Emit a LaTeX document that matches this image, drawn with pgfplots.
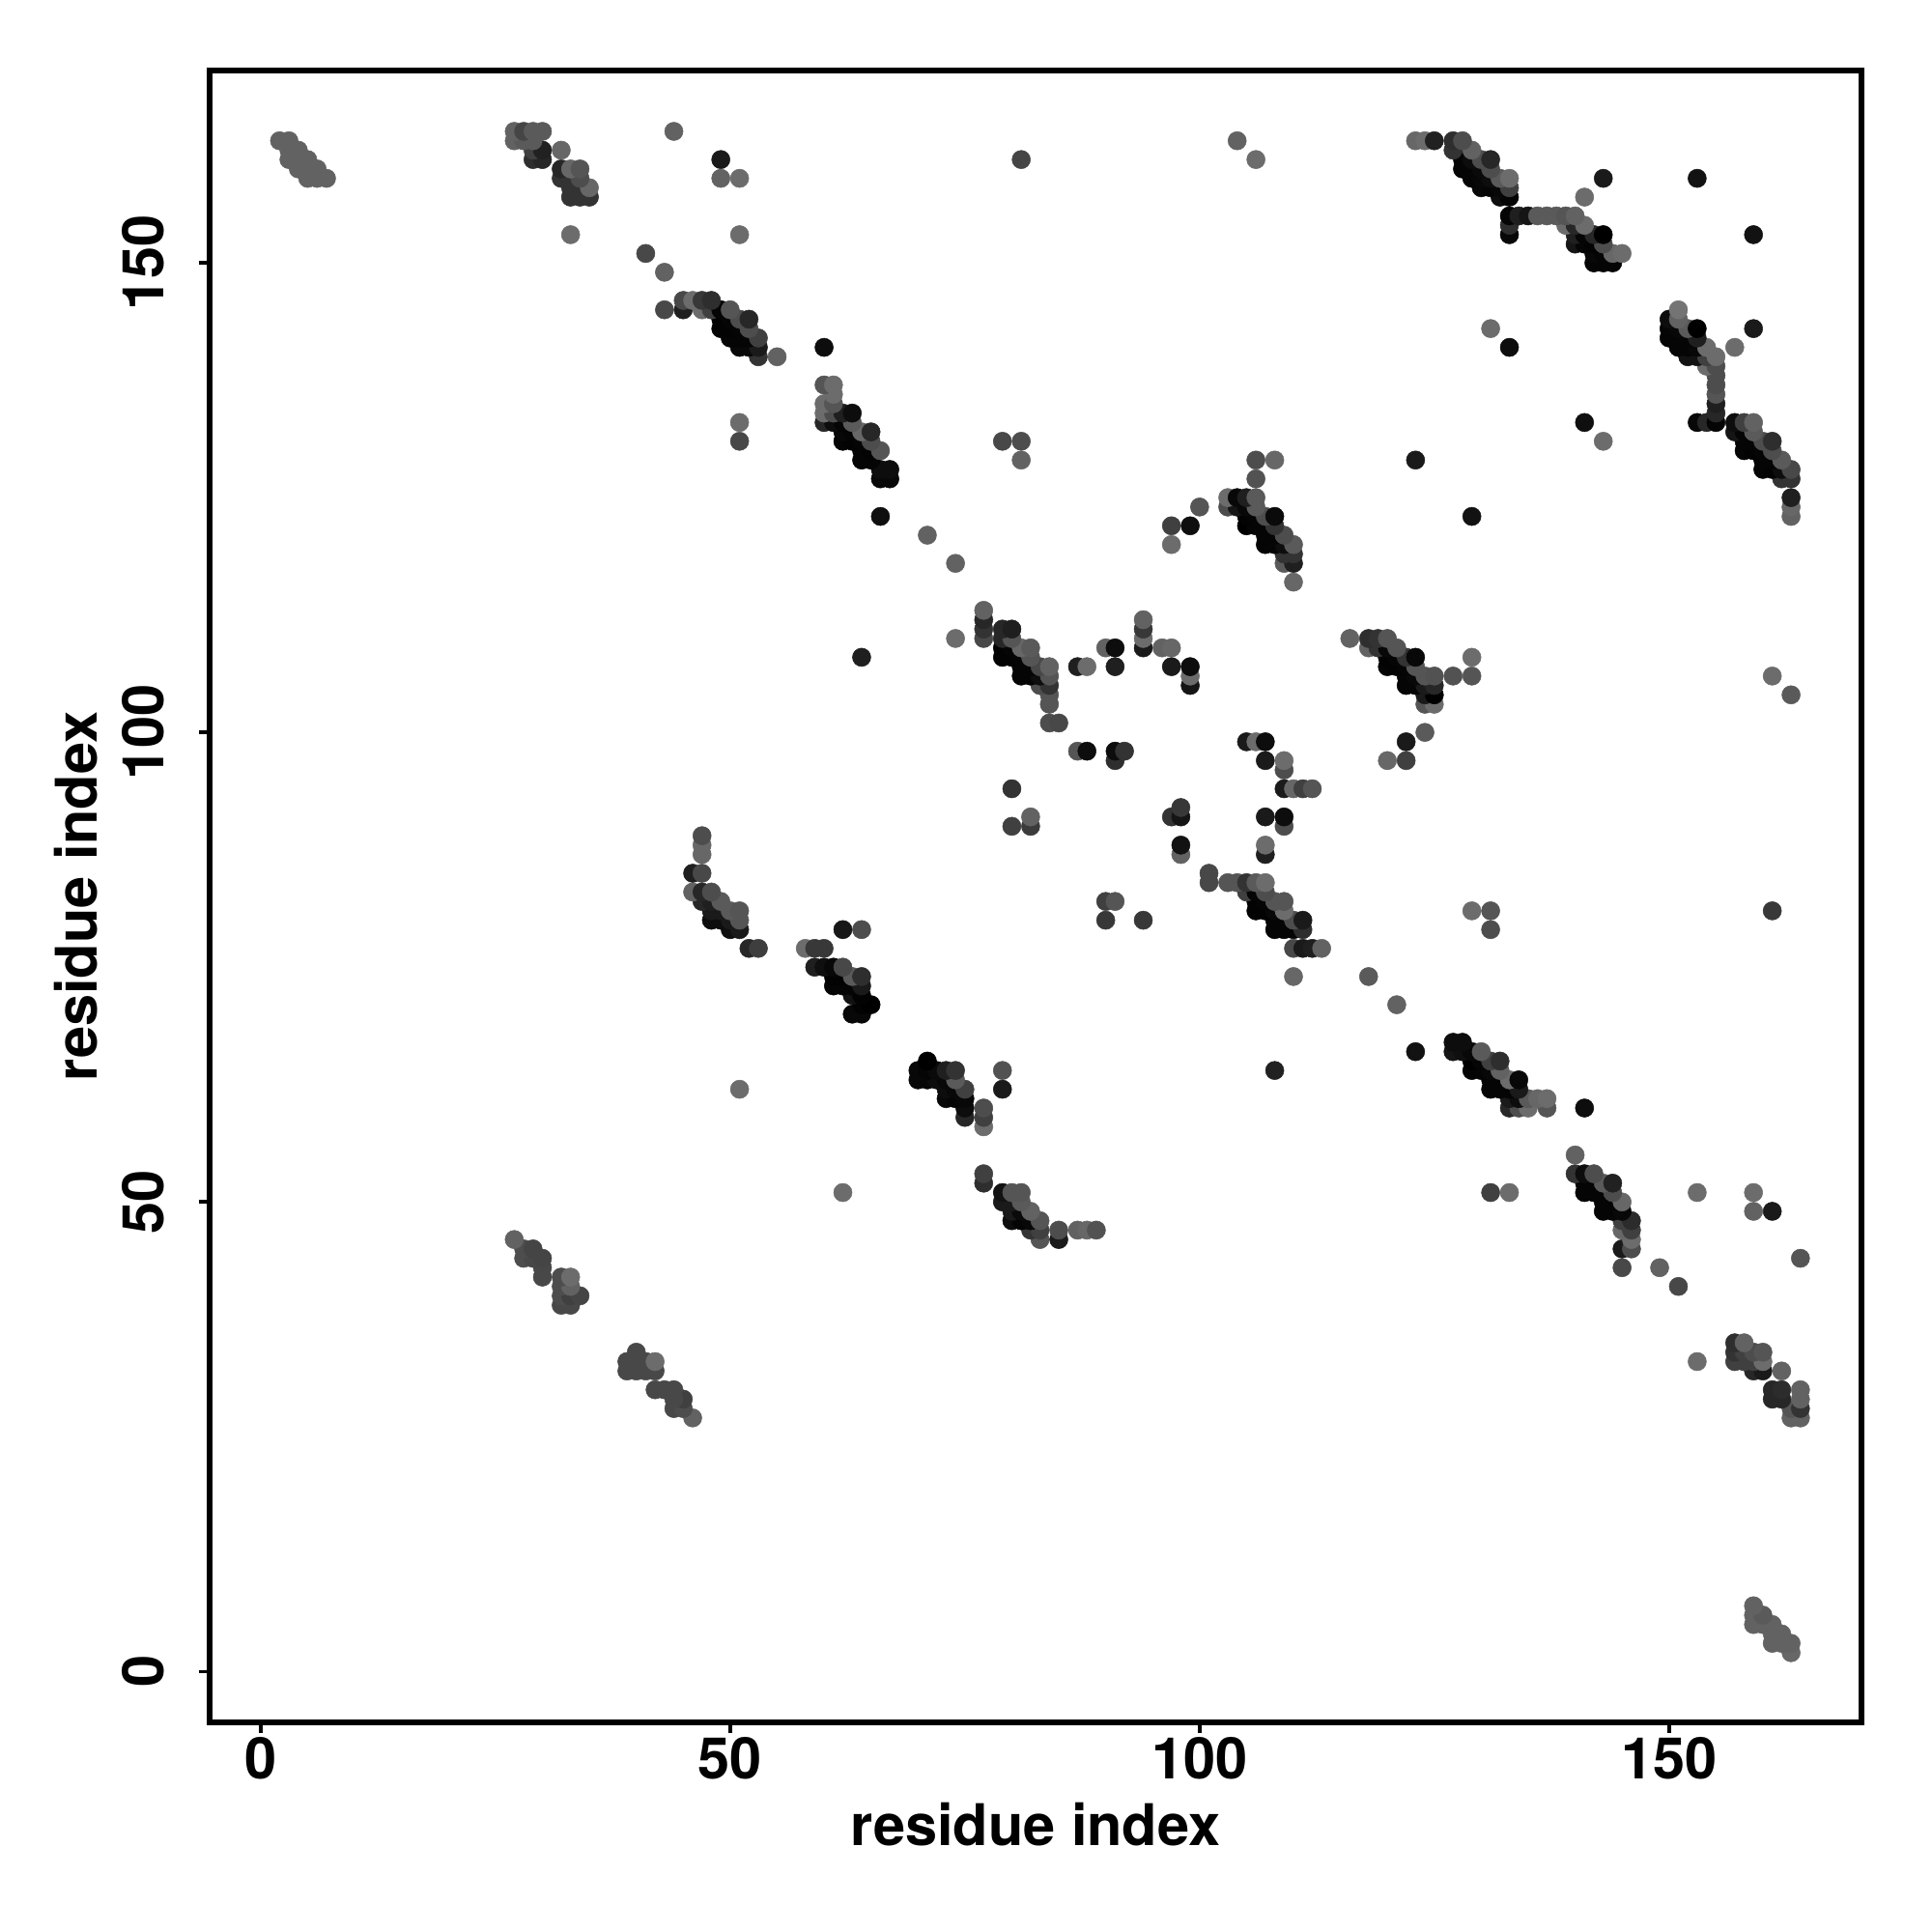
\documentclass[border=0pt]{standalone}
\usepackage{pgfplots}
\usepackage{fontspec}
\setmainfont{TeX Gyre Heros}
\pgfplotsset{compat=1.18}
\newcommand{\lblfont}{\fontsize{11.9}{14}\selectfont\bfseries}
\begin{document}
\begin{tikzpicture}[x=1pt,y=1pt]
\useasboundingbox (-43.4,-43.4) rectangle (356.6,356.6);
\begin{axis}[
  at={(0,0)},anchor=south west,
  scale only axis,width=342pt,height=342pt,
  xmin=-5.45,xmax=170.5,ymin=-5.42,ymax=170.48,
  axis line style={line width=1.15pt},
  xtick={0,50,100,150},ytick={0,50,100,150},
  tick align=outside,tick pos=left,
  major tick length=2.2pt,
  every tick/.style={black,line width=0.7pt},
  /pgf/number format/assume math mode=true,
  tick label style={font=\lblfont},
  xticklabel style={anchor=north,inner sep=0pt,yshift=-0.6pt},
  yticklabel style={rotate=90,anchor=south,inner sep=0pt,yshift=6.9pt},
  xlabel={residue index},ylabel={residue index},
  every axis x label/.style={at={(axis description cs:0.5,0)},anchor=center,yshift=-21.1pt,font=\lblfont},
  every axis y label/.style={at={(axis description cs:0,0.5)},anchor=center,rotate=90,yshift=27.6pt,font=\lblfont},
  colormap={gr}{gray(0cm)=(0); gray(1cm)=(1)},
  point meta min=0,point meta max=1,
  clip=false,
]
\addplot[only marks,scatter,scatter src=explicit,mark=*,mark size=1.9pt,
  scatter/use mapped color={draw=mapped color,fill=mapped color},
  mark options={line width=0.1pt}]
table[x=x,y=y,meta=g]{
x y g
163 2 .4
161 3 .38
162 3 .38
163 3 .38
161 4 .38
162 4 .38
159 5 .38
160 5 .38
161 5 .38
159 6 .38
160 6 .35
159 7 .38
163 27 .38
164 27 .38
46 27 .38
44 28 .28
45 28 .3
163 28 .33
164 28 .2
45 29 .25
44 29 .28
161 29 .15
162 29 .15
164 29 .38
42 30 .28
43 30 .28
44 30 .28
161 30 .15
162 30 .17
164 30 .38
39 32 .28
40 32 .28
41 32 .28
42 32 .28
159 32 .15
160 32 .1
162 32 .38
39 33 .28
40 33 .28
41 33 .28
42 33 .42
153 33 .42
157 33 .25
158 33 .25
159 33 .25
160 33 .42
40 34 .28
157 34 .2
158 34 .25
159 34 .3
160 34 .33
157 35 .18
158 35 .38
32 39 .28
33 39 .28
32 40 .3
33 40 .25
34 40 .27
32 41 .3
33 41 .38
151 41 .28
32 42 .3
33 42 .42
30 42 .28
149 43 .38
145 43 .28
30 43 .28
28 44 .3
29 44 .28
30 44 .27
164 44 .33
28 45 .3
29 45 .27
145 45 .1
146 45 .3
27 46 .38
83 46 .33
85 46 .1
146 46 .42
82 47 .2
83 47 .25
85 47 .3
87 47 .38
88 47 .4
89 47 .32
145 47 .4
146 47 .25
80 48 .05
81 48 .02
82 48 .03
83 48 .33
145 48 .25
146 48 .17
80 49 .1
81 49 .04
82 49 .38
143 49 .02
144 49 .02
145 49 .03
159 49 .38
161 49 .1
79 50 .1
80 50 .1
81 50 .35
143 50 .02
144 50 .02
145 50 .4
79 51 .07
80 51 .33
81 51 .33
62 51 .42
131 51 .25
133 51 .42
141 51 .02
142 51 .02
143 51 .02
144 51 .3
153 51 .42
159 51 .42
77 52 .18
141 52 .02
142 52 .02
143 52 .35
144 52 .13
77 53 .25
140 53 .2
141 53 .05
142 53 .3
140 55 .38
77 58 .42
77 59 .25
75 59 .15
75 60 .05
77 60 .3
133 60 .15
134 60 .3
135 60 .42
137 60 .33
141 60 .05
73 61 .03
74 61 .02
75 61 .03
133 61 .1
134 61 .05
135 61 .35
136 61 .4
137 61 .42
51 62 .42
73 62 .05
74 62 .03
75 62 .25
79 62 .1
131 62 .02
132 62 .02
133 62 .02
134 62 .1
70 63 .03
71 63 .03
72 63 .05
73 63 .03
74 63 .35
131 63 .02
132 63 .02
133 63 .42
134 63 .03
70 64 .03
71 64 .02
72 64 .04
73 64 .12
74 64 .2
79 64 .32
108 64 .13
129 64 .02
130 64 .02
131 64 .03
132 64 .38
71 65 .0
129 65 .0
130 65 .02
131 65 .25
132 65 .18
123 66 .07
127 66 .08
128 66 .06
129 66 .03
130 66 .35
127 67 .05
128 67 .05
63 70 .03
64 70 .03
64 71 .01
65 71 .0
121 71 .38
63 72 .07
64 72 .01
61 73 .02
62 73 .02
63 73 .02
64 73 .1
61 74 .01
62 74 .01
63 74 .35
64 74 .18
110 74 .4
118 74 .35
59 75 .12
60 75 .06
61 75 .03
62 75 .28
52 77 .15
53 77 .24
58 77 .42
59 77 .22
60 77 .22
110 77 .28
111 77 .1
112 77 .12
113 77 .38
50 79 .06
51 79 .1
62 79 .09
64 79 .3
108 79 .02
109 79 .02
110 79 .02
111 79 .18
131 79 .3
48 80 .05
49 80 .05
50 80 .1
51 80 .33
90 80 .22
94 80 .22
108 80 .02
109 80 .02
110 80 .3
111 80 .1
48 81 .1
49 81 .1
50 81 .35
51 81 .33
106 81 .01
107 81 .01
108 81 .03
109 81 .42
129 81 .42
131 81 .33
161 81 .22
47 82 .15
48 82 .12
49 82 .35
90 82 .25
91 82 .33
106 82 .01
107 82 .02
108 82 .33
109 82 .33
46 83 .38
47 83 .15
48 83 .3
105 83 .25
106 83 .02
107 83 .3
101 84 .28
103 84 .33
104 84 .33
105 84 .2
106 84 .35
107 84 .42
46 85 .12
47 85 .28
101 85 .28
47 87 .4
98 87 .38
107 87 .12
47 88 .4
98 88 .07
107 88 .42
47 89 .3
80 90 .25
82 90 .23
109 90 .3
82 91 .38
97 91 .2
98 91 .08
107 91 .1
109 91 .05
98 92 .22
80 94 .2
109 94 .1
110 94 .4
111 94 .25
112 94 .33
109 96 .3
91 97 .18
107 97 .1
109 97 .42
120 97 .4
122 97 .25
87 98 .33
88 98 .05
91 98 .05
92 98 .2
105 99 .1
106 99 .42
107 99 .05
122 99 .1
124 100 .35
84 101 .3
85 101 .28
84 103 .33
124 103 .33
125 103 .42
84 104 .33
124 104 .1
125 104 .0
163 104 .35
83 105 .3
84 105 .2
99 105 .08
122 105 .02
123 105 .02
124 105 .1
125 105 .15
81 106 .02
82 106 .02
83 106 .05
84 106 .33
99 106 .42
122 106 .02
123 106 .03
124 106 .33
125 106 .32
127 106 .32
129 106 .33
161 106 .42
81 107 .02
82 107 .02
83 107 .28
84 107 .38
87 107 .12
88 107 .42
91 107 .12
97 107 .1
99 107 .05
120 107 .02
121 107 .01
122 107 .02
123 107 .33
64 108 .12
79 108 .01
80 108 .01
81 108 .02
82 108 .33
120 108 .01
121 108 .02
122 108 .2
123 108 .03
129 108 .42
79 109 .01
80 109 .02
81 109 .4
82 109 .35
90 109 .38
91 109 .05
94 109 .1
96 109 .38
97 109 .4
118 109 .38
119 109 .2
120 109 .03
121 109 .33
74 110 .42
77 110 .28
79 110 .15
80 110 .33
94 110 .42
116 110 .38
118 110 .18
119 110 .2
120 110 .33
77 111 .2
79 111 .15
80 111 .12
94 111 .22
77 112 .15
94 112 .38
77 113 .38
110 116 .4
74 118 .38
109 118 .35
110 118 .12
109 119 .2
110 119 .2
97 120 .42
107 120 .02
108 120 .02
109 120 .05
110 120 .35
71 121 .38
107 121 .02
108 121 .02
109 121 .3
97 122 .25
99 122 .06
105 122 .0
106 122 .02
107 122 .02
108 122 .2
66 123 .06
105 123 .01
106 123 .02
107 123 .3
108 123 .04
129 123 .07
163 123 .38
100 124 .33
103 124 .3
104 124 .08
105 124 .03
106 124 .35
163 124 .4
103 125 .42
104 125 .03
105 125 .12
106 125 .35
163 125 .12
66 127 .03
67 127 .03
106 127 .32
162 127 .2
163 127 .2
66 128 .05
67 128 .05
160 128 .02
161 128 .01
162 128 .05
163 128 .28
64 129 .02
65 129 .02
81 129 .38
106 129 .3
108 129 .4
123 129 .1
160 129 .02
161 129 .02
162 129 .35
64 130 .02
65 130 .01
66 130 .33
158 130 .02
159 130 .01
160 130 .02
161 130 .3
51 131 .28
62 131 .02
63 131 .01
64 131 .02
65 131 .3
79 131 .28
81 131 .3
143 131 .42
158 131 .02
159 131 .02
160 131 .3
161 131 .18
62 132 .03
63 132 .02
64 132 .4
65 132 .15
157 132 .08
158 132 .02
159 132 .35
51 133 .42
60 133 .15
61 133 .05
62 133 .02
63 133 .35
141 133 .06
153 133 .03
154 133 .15
155 133 .02
157 133 .05
158 133 .25
159 133 .38
60 134 .42
61 134 .3
62 134 .12
63 134 .05
155 134 .15
60 135 .42
61 135 .33
155 135 .12
61 136 .42
155 136 .33
60 137 .33
61 137 .42
155 137 .3
155 138 .3
154 139 .42
155 139 .3
53 140 .2
55 140 .38
152 140 .07
153 140 .07
154 140 .25
155 140 .42
51 141 .03
52 141 .03
53 141 .1
60 141 .05
133 141 .05
151 141 .02
152 141 .02
153 141 .03
154 141 .42
157 141 .42
50 142 .02
51 142 .02
52 142 .02
53 142 .25
150 142 .02
151 142 .02
152 142 .02
153 142 .12
49 143 .01
50 143 .01
51 143 .02
52 143 .3
131 143 .42
150 143 .02
151 143 .03
152 143 .35
153 143 .0
159 143 .1
49 144 .01
50 144 .02
51 144 .3
52 144 .15
150 144 .05
151 144 .38
43 145 .28
45 145 .12
47 145 .42
48 145 .25
49 145 .02
50 145 .33
151 145 .45
45 146 .28
46 146 .42
47 146 .22
48 146 .18
43 149 .38
142 150 .02
143 150 .02
144 150 .02
142 151 .03
143 151 .02
144 151 .4
145 151 .42
41 151 .28
140 152 .08
141 152 .02
142 152 .01
143 152 .3
33 153 .42
51 153 .42
133 153 .03
140 153 .12
141 153 .02
142 153 .15
143 153 .0
159 153 .07
133 154 .18
139 154 .42
140 154 .15
141 154 .42
133 155 .02
134 155 .12
135 155 .08
136 155 .35
137 155 .35
138 155 .35
139 155 .33
140 155 .38
141 157 .42
33 157 .2
34 157 .2
35 157 .2
132 157 .05
133 157 .02
33 158 .2
34 158 .2
35 158 .4
130 158 .03
131 158 .02
132 158 .03
133 158 .25
5 159 .38
6 159 .38
7 159 .38
32 159 .2
33 159 .2
34 159 .3
49 159 .38
51 159 .42
129 159 .02
130 159 .03
131 159 .05
132 159 .35
133 159 .42
143 159 .1
153 159 .07
4 160 .38
5 160 .38
6 160 .38
32 160 .15
33 160 .4
34 160 .33
128 160 .02
129 160 .02
130 160 .04
131 160 .3
3 161 .38
4 161 .38
5 161 .38
29 161 .18
30 161 .15
49 161 .1
81 161 .27
106 161 .42
128 161 .02
129 161 .05
130 161 .3
131 161 .15
3 162 .38
4 162 .38
29 162 .25
30 162 .13
32 162 .4
127 162 .2
129 162 .38
2 163 .38
3 163 .38
27 163 .38
28 163 .35
29 163 .35
104 163 .38
123 163 .4
124 163 .42
125 163 .13
127 163 .18
128 163 .3
27 164 .38
28 164 .27
29 164 .35
30 164 .35
44 164 .38
};
\end{axis}
\end{tikzpicture}
\end{document}
